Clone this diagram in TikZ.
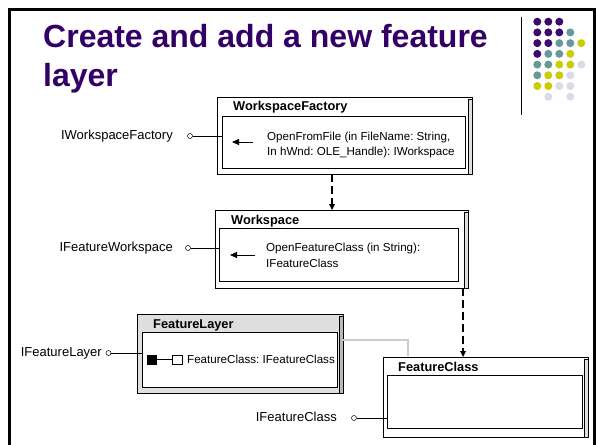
\documentclass[tikz,border=0pt]{standalone}
\usepackage{fontspec}
\setmainfont{Liberation Sans}
\usetikzlibrary{arrows.meta,calc}
\definecolor{ttl}{HTML}{330066}
\definecolor{dp}{HTML}{3A0A6C}
\definecolor{dt}{HTML}{669999}
\definecolor{dy}{HTML}{CCCC00}
\definecolor{dl}{HTML}{DADAEA}
\frenchspacing
\begin{document}
\begin{tikzpicture}[x=1pt,y=-1pt,
  box3d/.style={draw=black, line width=0.6pt, fill=white, inner sep=0pt, outer sep=0pt},
  strip/.style={draw=black, line width=0.5pt, fill=gray!25},
  inbox/.style={draw=black, line width=0.6pt, fill=white, inner sep=0pt, outer sep=0pt},
  boxtitle/.style={anchor=west, inner sep=0pt, font=\fontsize{12.8}{15}\selectfont\bfseries},
  meth/.style={anchor=west, align=left, inner sep=0pt, font=\fontsize{11.6}{15.5}\selectfont},
  lbl/.style={anchor=east, inner sep=0pt, font=\fontsize{13}{15}\selectfont},
  port/.style={circle, draw=black, fill=white, inner sep=0pt, minimum size=5pt, line width=0.5pt},
  callarrow/.style={line width=1pt, -{Triangle[length=7pt,width=6pt]}},
  dasharrow/.style={line width=2.2pt, dash pattern=on 8pt off 4pt, -{Triangle[length=6pt,width=6pt,line width=0pt]}},
  link/.style={line width=0.7pt}
]
\useasboundingbox (0,0) rectangle (596,444);
\fill[white] (0,0) rectangle (596,444);
% slide frame
\draw[line width=3pt] (9.5,446) -- (9.5,9.5) -- (594.5,9.5) -- (594.5,446);
% title
\node[anchor=base west, inner sep=0pt, text=ttl, font=\fontsize{32}{38}\selectfont\bfseries] (t1) at (43,48) {Create and add a new feature};
\node[anchor=base west, inner sep=0pt, text=ttl, font=\fontsize{32}{38}\selectfont\bfseries] (t2) at (43,86) {layer};
% decoration
\draw[line width=1pt] (521,17) -- (521,115);
\foreach \r/\c/\col in {0/0/dp,0/1/dp,0/2/dp,
  1/0/dp,1/1/dp,1/2/dp,1/3/dt,
  2/0/dp,2/1/dp,2/2/dt,2/3/dt,2/4/dy,
  3/0/dp,3/1/dt,3/2/dt,3/3/dy,
  4/0/dt,4/1/dt,4/2/dy,4/3/dy,4/4/dl,
  5/0/dt,5/1/dy,5/2/dy,5/3/dl,
  6/0/dy,6/1/dy,6/2/dl,6/3/dl,
  7/1/dl,7/3/dl}
  \fill[\col] (537.3+11*\c, 21.7+10.72*\r) circle (4pt);

% ---- WorkspaceFactory
\node[box3d, minimum width=255pt, minimum height=77pt] (wf) at (344.5,135.5) {};
\filldraw[strip] ([xshift=-4pt,yshift=-2pt]wf.north east) rectangle (wf.south east);
\node[inbox, minimum width=243pt, minimum height=52pt] (wfi) at (343.5,142) {};
\node[boxtitle] (wft) at (233,107.5) {WorkspaceFactory};
\node[meth] (wfm) at (267,145) {OpenFromFile (in FileName: String,\\In hWnd: OLE\_Handle): IWorkspace};
\coordinate (wfa1) at (253,142);
\coordinate (wfa2) at (232,142);
\draw[callarrow] (wfa1) -- (wfa2);
\node[lbl] (iwf) at (173,136) {IWorkspaceFactory};
\node[port] (p1) at (190,136) {};
\draw[link] (p1) -- (p1 -| wfi.west);

% ---- Workspace
\node[box3d, minimum width=253pt, minimum height=78pt] (ws) at (341.5,249) {};
\filldraw[strip] ([xshift=-4pt,yshift=-2pt]ws.north east) rectangle (ws.south east);
\node[inbox, minimum width=239pt, minimum height=53pt] (wsi) at (338.5,254.5) {};
\node[boxtitle] (wst) at (231,221) {Workspace};
\node[meth] (wsm) at (266,255.5) {OpenFeatureClass (in String):\\IFeatureClass};
\coordinate (wsa1) at (255,255);
\coordinate (wsa2) at (230,255);
\draw[callarrow] (wsa1) -- (wsa2);
\node[lbl] (ifw) at (173,248) {IFeatureWorkspace};
\node[port] (p2) at (188,248) {};
\draw[link] (p2) -- (p2 -| wsi.west);

% ---- FeatureLayer
\node[box3d, fill=gray!25, minimum width=206pt, minimum height=79pt] (fl) at (240,353.5) {};
\filldraw[strip, fill=gray!55] ([xshift=-4pt,yshift=-2pt]fl.north east) rectangle (fl.south east);
\node[inbox, minimum width=195pt, minimum height=55pt] (fli) at (239.5,359.5) {};
\node[boxtitle] (flt) at (153,325) {FeatureLayer};
\node[draw=black, fill=black, minimum size=9pt, inner sep=0pt] (sq1) at (151.5,359.5) {};
\node[draw=black, fill=white, minimum size=9.5pt, inner sep=0pt, line width=0.5pt] (sq2) at (177,359.5) {};
\draw[link] (sq1) -- (sq2);
\node[meth] (flm) at (187,359.5) {FeatureClass: IFeatureClass};
\node[lbl] (ifl) at (102,353) {IFeatureLayer};
\node[port] (p3) at (108.5,353) {};
\draw[link] (p3) -- (p3 -| fli.west);

% ---- FeatureClass
\draw[line width=2pt, gray!40] ([yshift=13.5pt]fl.east) -| (408,356);
\node[box3d, minimum width=205pt, minimum height=80pt] (fc) at (485.5,397) {};
\filldraw[strip] ([xshift=-4pt,yshift=-2pt]fc.north east) rectangle (fc.south east);
\node[inbox, minimum width=195pt, minimum height=53pt] (fci) at (484.5,401.5) {};
\node[boxtitle] (fct) at (398,367) {FeatureClass};
\node[lbl] (ifc) at (337,417) {IFeatureClass};
\node[port] (p4) at (354,418) {};
\draw[link] (p4) -- (p4 -| fci.west);

% ---- dashed relations
\draw[dasharrow] ([xshift=-12.5pt]wf.south) -- ([xshift=-9.5pt]ws.north);
\draw[dasharrow] ([xshift=-5pt]ws.south east) -- ([xshift=-5pt]ws.south east |- fc.north);
\end{tikzpicture}
\end{document}
